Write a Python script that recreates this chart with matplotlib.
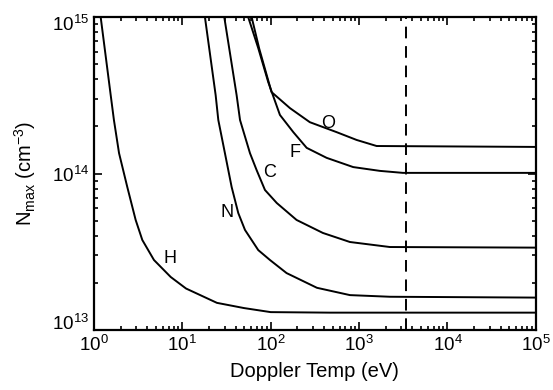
import numpy as np
import matplotlib
matplotlib.use("Agg")
import matplotlib.pyplot as plt
from matplotlib.transforms import ScaledTranslation

plt.rcParams['font.family'] = ['Liberation Sans', 'DejaVu Sans']
plt.rcParams['mathtext.fontset'] = 'custom'
plt.rcParams['mathtext.rm'] = 'Liberation Sans'
plt.rcParams['mathtext.it'] = 'Liberation Sans:italic'
plt.rcParams['mathtext.bf'] = 'Liberation Sans:bold'

# Doppler temperature (eV) vs N_max (cm^-3)
h_temp = [1.19, 1.545, 1.68, 1.92, 2.38, 2.96, 3.52, 4.77, 7.38, 11.0, 24.6, 49.8, 99.8, 468, 1e5]
h_nmax = [1e15, 3.17e14, 2.20e14, 1.35e14, 8.20e13, 5.05e13, 3.76e13, 2.80e13, 2.18e13,
          1.84e13, 1.49e13, 1.38e13, 1.30e13, 1.29e13, 1.29e13]

n_temp = [18.0, 23.8, 25.5, 30.3, 36.1, 42.9, 51.1, 72.2, 98, 151, 333, 787, 2230, 1e5]
n_nmax = [1e15, 3.17e14, 2.20e14, 1.35e14, 8.20e13, 5.59e13, 4.36e13, 3.24e13, 2.80e13,
          2.31e13, 1.86e13, 1.67e13, 1.63e13, 1.61e13]

c_temp = [29.8, 41.1, 44.9, 58.2, 69.3, 86.0, 117, 196, 389, 787, 2230, 1e5]
c_nmax = [1e15, 3.17e14, 2.20e14, 1.35e14, 1.05e14, 7.85e13, 6.48e13, 5.05e13, 4.17e13,
          3.65e13, 3.39e13, 3.36e13]

f_temp = [55.6, 72.2, 93.7, 127, 180, 255, 429, 857, 1720, 3130, 1e5]
f_nmax = [1e15, 6.34e14, 3.84e14, 2.37e14, 1.84e14, 1.46e14, 1.26e14, 1.10e14,
          1.04e14, 1.01e14, 1.01e14]

o_temp = [60.8, 74, 102, 165, 277, 556, 937, 1578, 1e5]
o_nmax = [1e15, 6.3e14, 3.32e14, 2.62e14, 2.13e14, 1.84e14, 1.64e14, 1.50e14, 1.48e14]

labels = ['H', 'N', 'C', 'F', 'O']
label_x = [7.24, 32, 98, 188, 444]
label_y = [2.85e13, 5.67e13, 1.01e14, 1.37e14, 2.10e14]

dashed_temp = 3.36e3

fig = plt.figure(figsize=(5.53, 3.90), dpi=100)
ax = fig.add_axes([0.170, 0.154, 0.799, 0.802])

for xs, ys in [(h_temp, h_nmax), (n_temp, n_nmax), (c_temp, c_nmax),
               (f_temp, f_nmax), (o_temp, o_nmax)]:
    ax.plot(xs, ys, color='black', lw=1.4, solid_joinstyle='round')

ax.axvline(dashed_temp, color='black', lw=1.4, ls=(0, (6, 4)))

for lab, lx, ly in zip(labels, label_x, label_y):
    ax.text(lx, ly, lab, fontsize=13, ha='center', va='center')

ax.set_xscale('log')
ax.set_yscale('log')
ax.set_xlim(1, 1e5)
ax.set_ylim(1e13, 1e15)
ax.set_yticks([1e13, 1e14, 1e15])

ax.tick_params(which='both', direction='in', top=True, right=True, labelsize=13.5, width=1.2)
ax.tick_params(which='major', length=6)
ax.tick_params(which='minor', length=3)
for s in ax.spines.values():
    s.set_linewidth(1.6)

# nudge the end labels of the y axis inward like the original
ylabs = ax.get_yticklabels()
ylabs[0].set_transform(ylabs[0].get_transform() + ScaledTranslation(0, 6/72, fig.dpi_scale_trans))
ylabs[2].set_transform(ylabs[2].get_transform() + ScaledTranslation(0, -4/72, fig.dpi_scale_trans))

ax.set_xlabel('Doppler Temp (eV)', fontsize=14.5, labelpad=5)
ax.set_ylabel('N$_{\\rm max}$ (cm$^{-3}$)', fontsize=14.5, labelpad=10)

fig.savefig('out.png', dpi=100)
